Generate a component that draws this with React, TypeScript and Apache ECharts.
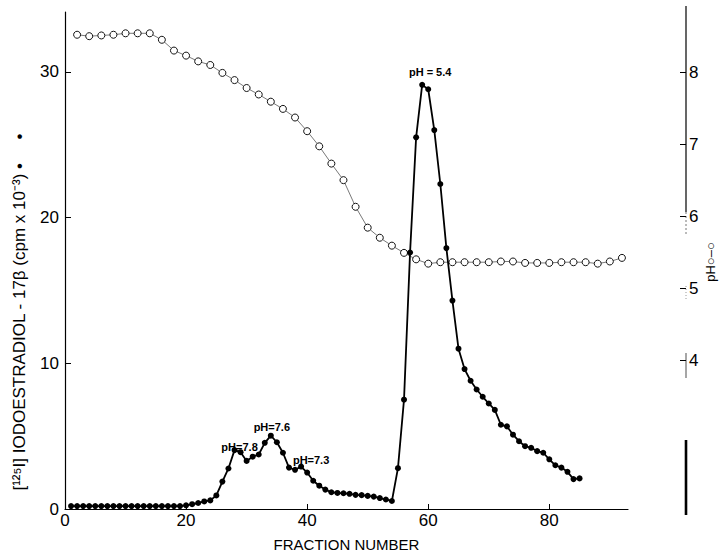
import React, { useEffect, useRef } from "react";
import * as echarts from "echarts";

// Radioactivity ([125I] iodoestradiol-17β, cpm x 10^-3), fractions 1..85
const activityFirstFraction = 1;
const activityValues = [
  0.2, 0.2, 0.2, 0.2, 0.2, 0.2, 0.2, 0.2, 0.2, 0.2,
  0.2, 0.2, 0.2, 0.2, 0.2, 0.2, 0.2, 0.2, 0.2, 0.25,
  0.33, 0.41, 0.52, 0.59, 0.93, 1.88, 2.78, 4.04, 3.9, 3.3,
  3.59, 3.74, 4.54, 5.03, 4.58, 3.86, 2.84, 2.69, 2.91, 2.5,
  1.94, 1.6, 1.33, 1.15, 1.1, 1.08, 1.04, 0.97, 0.95, 0.9,
  0.85, 0.75, 0.65, 0.55, 2.8, 7.5, 17.6, 25.5, 29.1, 28.8,
  26.0, 22.3, 17.9, 14.3, 11.0, 9.6, 8.8, 8.2, 7.7, 7.24,
  6.8, 5.78, 5.67, 5.1, 4.65, 4.31, 4.2, 3.97, 3.86, 3.41,
  3.0, 2.84, 2.55, 2.05, 2.1,
];

// pH gradient, measured on every second fraction (2, 4, ..., 92)
const phFirstFraction = 2;
const phFractionStep = 2;
const phValues = [
  8.52, 8.5, 8.51, 8.52, 8.54, 8.54, 8.54, 8.45, 8.3, 8.23,
  8.15, 8.1, 7.99, 7.89, 7.78, 7.69, 7.59, 7.49, 7.37, 7.18,
  6.97, 6.73, 6.5, 6.13, 5.84, 5.7, 5.59, 5.49, 5.4, 5.34,
  5.36, 5.36, 5.36, 5.36, 5.36, 5.37, 5.37, 5.35, 5.35, 5.35,
  5.36, 5.36, 5.36, 5.34, 5.37, 5.42,
];

// Peak annotations (fraction at which the label sits, text)
const peakFractions = [29, 34, 39, 59];
const peakTexts = ["pH=7.8", "pH=7.6", "pH=7.3", "pH = 5.4"];

const xTicks = [0, 20, 40, 60, 80];
const leftTicks = [0, 10, 20, 30];
const rightTicks = [4, 5, 6, 7, 8];

const FONT = "'Liberation Sans', Arial, sans-serif";

export default function App() {
  const ref = useRef<HTMLDivElement>(null);

  useEffect(() => {
    document.body.style.margin = "0";
    if (!ref.current) return;
    const chart = echarts.init(ref.current, null, { renderer: "svg" });

    const labelOffsets: Record<number, number[]> = {
      29: [-1, 3],
      34: [1, 0],
      39: [10, 2],
      59: [8, -4],
    };

    const activityData = activityValues.map((v, i) => {
      const f = activityFirstFraction + i;
      const k = peakFractions.indexOf(f);
      if (k < 0) return [f, v];
      return {
        value: [f, v],
        label: {
          show: true,
          formatter: peakTexts[k],
          position: "top",
          distance: 0,
          offset: labelOffsets[f],
          fontSize: 11,
          fontWeight: "bold",
          fontFamily: FONT,
          color: "#000",
        },
      };
    });

    const phData = phValues.map((v, i) => [phFirstFraction + i * phFractionStep, v]);

    const axisX = 686;

    chart.setOption({
      animation: false,
      backgroundColor: "#fff",
      textStyle: { fontFamily: FONT },
      grid: { left: 65, right: 92, top: 12, bottom: 41 },
      xAxis: {
        type: "value",
        min: 0,
        max: 93,
        splitLine: { show: false },
        axisLine: { lineStyle: { color: "#000", width: 1.2 } },
        axisTick: { inside: true, length: 5, customValues: xTicks, lineStyle: { color: "#000" } },
        axisLabel: { customValues: xTicks, fontSize: 17, color: "#000", margin: 3, fontFamily: FONT },
        name: "FRACTION NUMBER",
        nameLocation: "middle",
        nameGap: 28,
        nameTextStyle: { fontSize: 15, color: "#000", fontFamily: FONT },
      },
      yAxis: [
        {
          type: "value",
          min: 0,
          max: 34.1,
          position: "left",
          splitLine: { show: false },
          axisLine: { show: true, lineStyle: { color: "#000", width: 1.2 } },
          axisTick: { show: true, inside: true, length: 6, customValues: leftTicks, lineStyle: { color: "#000" } },
          axisLabel: { customValues: leftTicks, fontSize: 17, color: "#000", margin: 6, fontFamily: FONT },
        },
        {
          type: "value",
          min: 1.9315,
          max: 8.836,
          position: "right",
          offset: axisX - 628,
          splitLine: { show: false },
          axisLine: { show: false },
          axisTick: { show: true, inside: true, length: 6, customValues: rightTicks, lineStyle: { color: "#000" } },
          axisLabel: { customValues: rightTicks, fontSize: 17, color: "#000", margin: 3, fontFamily: FONT },
        },
      ],
      graphic: [
        { type: "line", shape: { x1: axisX, y1: 6, x2: axisX, y2: 212 }, style: { stroke: "#000", lineWidth: 1.2 } },
        { type: "line", shape: { x1: axisX, y1: 212, x2: axisX, y2: 236 }, style: { stroke: "#777", lineWidth: 1, lineDash: [2, 2] } },
        { type: "line", shape: { x1: axisX, y1: 286, x2: axisX, y2: 300 }, style: { stroke: "#999", lineWidth: 1, lineDash: [1, 2] } },
        { type: "line", shape: { x1: axisX, y1: 353, x2: axisX, y2: 378 }, style: { stroke: "#888", lineWidth: 1.5 } },
        { type: "line", shape: { x1: axisX, y1: 440, x2: axisX, y2: 515 }, style: { stroke: "#000", lineWidth: 2.6 } },
        {
          type: "text",
          x: 19,
          y: 312,
          rotation: Math.PI / 2,
          style: {
            text: "[¹²⁵I] IODOESTRADIOL - 17β (cpm x 10⁻³) •     •",
            fontSize: 17,
            fontFamily: FONT,
            fill: "#000",
            align: "center",
            verticalAlign: "middle",
          },
        },
        {
          type: "text",
          x: 710,
          y: 262,
          rotation: Math.PI / 2,
          style: {
            text: "pH○–○",
            fontSize: 13,
            fontFamily: FONT,
            fill: "#000",
            align: "center",
            verticalAlign: "middle",
          },
        },
      ],
      series: [
        {
          name: "pH",
          type: "line",
          yAxisIndex: 1,
          data: phData,
          symbol: "circle",
          symbolSize: 7,
          showAllSymbol: true,
          itemStyle: { color: "#fff", borderColor: "#111", borderWidth: 1 },
          lineStyle: { color: "#555", width: 0.8 },
          z: 2,
        },
        {
          name: "activity",
          type: "line",
          yAxisIndex: 0,
          data: activityData,
          symbol: "circle",
          symbolSize: 6,
          showAllSymbol: true,
          itemStyle: { color: "#000" },
          lineStyle: { color: "#000", width: 1.8 },
          z: 3,
        },
      ],
    });

    return () => chart.dispose();
  }, []);

  return (
    <div
      ref={ref}
      style={{ position: "fixed", left: 0, top: 0, width: 720, height: 557, background: "#fff" }}
    />
  );
}
